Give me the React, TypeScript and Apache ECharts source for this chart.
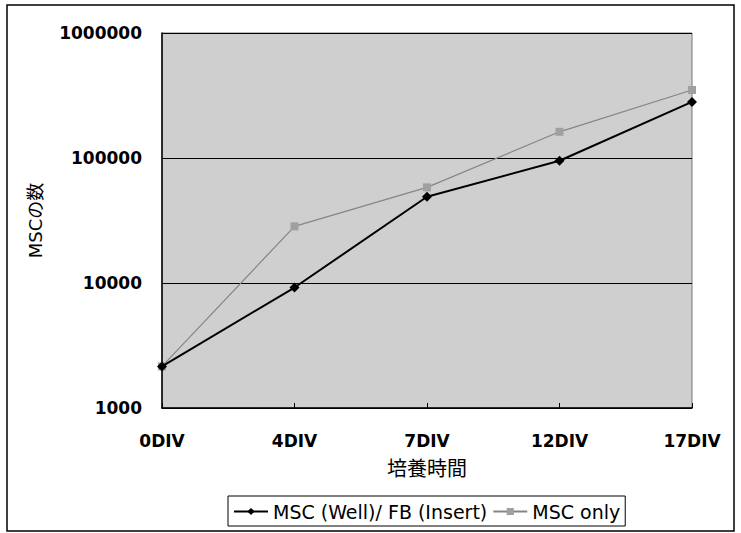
import React, { useEffect, useRef } from "react";
import * as echarts from "echarts";

const categories = ["0DIV", "4DIV", "7DIV", "12DIV", "17DIV"];
const wellFbValues = [2150, 9200, 49000, 95000, 281000];
const mscOnlyValues = [2150, 28400, 58200, 162000, 350000];
const seriesNames = ["MSC (Well)/ FB (Insert)", "MSC only"];
const xAxisTitle = "培養時間";
const yAxisTitle = "MSCの数";

const FONT = "'DejaVu Sans', 'Noto Sans CJK JP', sans-serif";
const CJK = "'Noto Sans CJK JP', 'DejaVu Sans', sans-serif";

export default function App() {
  const ref = useRef<HTMLDivElement>(null);
  useEffect(() => {
    if (!ref.current) return;
    const chart = echarts.init(ref.current, null, { renderer: "svg" });
    chart.setOption({
      animation: false,
      backgroundColor: "#ffffff",
      textStyle: { fontFamily: FONT },
      graphic: [
        {
          type: "rect",
          shape: { x: 7, y: 5, width: 727, height: 526 },
          style: { fill: "none", stroke: "#000", lineWidth: 1.5 },
          z: 0,
        },
      ],
      grid: {
        left: 162,
        right: 49,
        top: 33,
        bottom: 125,
        show: true,
        backgroundColor: "#cfcfcf",
        borderColor: "#777",
        borderWidth: 1,
      },
      legend: {
        top: 496,
        left: 228,
        data: seriesNames,
        borderColor: "#000",
        borderWidth: 1,
        padding: [6, 5, 5, 5],
        itemGap: 5,
        itemWidth: 34,
        itemHeight: 9,
        textStyle: { fontSize: 19, color: "#000", fontFamily: FONT },
      },
      xAxis: {
        type: "category",
        data: categories,
        boundaryGap: false,
        name: xAxisTitle,
        nameLocation: "middle",
        nameGap: 49,
        nameTextStyle: { fontSize: 20, color: "#000", fontFamily: CJK },
        axisLine: { show: true, lineStyle: { color: "#000", width: 1.5 } },
        axisTick: { show: true, inside: true, length: 5, lineStyle: { color: "#000" } },
        axisLabel: { fontSize: 17, fontWeight: "bold", color: "#000", margin: 24, fontFamily: FONT },
        splitLine: { show: false },
      },
      yAxis: {
        type: "log",
        logBase: 10,
        min: 1000,
        max: 1000000,
        name: yAxisTitle,
        nameLocation: "middle",
        nameGap: 118,
        nameRotate: 90,
        nameTextStyle: { fontSize: 18, color: "#000", fontFamily: FONT },
        axisLine: { show: true, lineStyle: { color: "#000", width: 1.5 } },
        axisTick: { show: false },
        axisLabel: {
          fontSize: 17,
          fontWeight: "bold",
          color: "#000",
          margin: 20,
          fontFamily: FONT,
          formatter: (v: number) => String(Math.round(v)),
        },
        splitLine: { show: true, lineStyle: { color: "#000", width: 1 } },
      },
      series: [
        {
          name: seriesNames[0],
          type: "line",
          data: wellFbValues,
          symbol: "diamond",
          symbolSize: 10,
          lineStyle: { color: "#000", width: 2 },
          itemStyle: { color: "#000" },
          z: 3,
        },
        {
          name: seriesNames[1],
          type: "line",
          data: mscOnlyValues,
          symbol: "rect",
          symbolSize: 8,
          lineStyle: { color: "#858585", width: 1.2 },
          itemStyle: { color: "#a0a0a0" },
          z: 2,
        },
      ],
    });
    return () => chart.dispose();
  }, []);
  return (
    <div
      ref={ref}
      style={{ position: "absolute", left: 0, top: 0, width: 741, height: 533 }}
    />
  );
}
